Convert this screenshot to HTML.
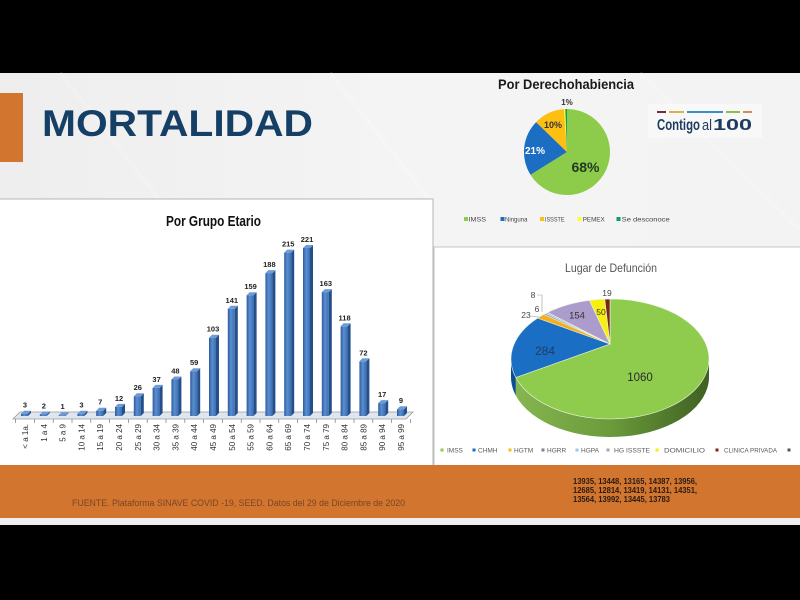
<!DOCTYPE html>
<html>
<head>
<meta charset="utf-8">
<style>
html,body{margin:0;padding:0;background:#000;}
body{width:800px;height:600px;overflow:hidden;}
svg{display:block;font-family:"Liberation Sans",sans-serif;}
</style>
</head>
<body>
<svg width="800" height="600" viewBox="0 0 800 600" xmlns="http://www.w3.org/2000/svg">
<defs>
  <linearGradient id="bg" x1="0" y1="0" x2="1" y2="0">
    <stop offset="0" stop-color="#eeeeee"/>
    <stop offset="0.5" stop-color="#f4f4f4"/>
    <stop offset="1" stop-color="#f3f3f3"/>
  </linearGradient>
  <linearGradient id="bf" x1="0" y1="0" x2="1" y2="0">
    <stop offset="0" stop-color="#2d5c9c"/>
    <stop offset="0.45" stop-color="#5a8ed0"/>
    <stop offset="1" stop-color="#3b6eb2"/>
  </linearGradient>
  <linearGradient id="side" x1="515" y1="0" x2="709" y2="0" gradientUnits="userSpaceOnUse">
    <stop offset="0" stop-color="#86b650"/>
    <stop offset="0.5" stop-color="#6a9a3a"/>
    <stop offset="1" stop-color="#3f6022"/>
  </linearGradient>
</defs>

<!-- black bars -->
<rect x="0" y="0" width="800" height="73" fill="#000"/>
<rect x="0" y="525" width="800" height="75" fill="#000"/>
<!-- background -->
<rect x="0" y="73" width="800" height="452" fill="url(#bg)"/>
<g stroke="#ffffff" stroke-width="4" opacity="0.18">
  <line x1="60" y1="73" x2="160" y2="200"/>
  <line x1="330" y1="73" x2="430" y2="200"/>
  <line x1="640" y1="73" x2="800" y2="230"/>
</g>

<!-- header -->
<rect x="0" y="93" width="23" height="69" fill="#d2752f"/>
<text x="42" y="136" font-size="37" font-weight="bold" fill="#163f66" textLength="271" lengthAdjust="spacingAndGlyphs">MORTALIDAD</text>

<!-- logo -->
<rect x="648" y="104" width="114" height="34" fill="#ffffff" opacity="0.4"/>
<rect x="657" y="111" width="9" height="2" fill="#7a2a3a"/>
<rect x="669" y="111" width="15" height="2" fill="#d9b24a"/>
<rect x="687" y="111" width="36" height="2" fill="#3a8fc8"/>
<rect x="726" y="111" width="14" height="2" fill="#8cbf4a"/>
<rect x="743" y="111" width="9" height="2" fill="#d98a50"/>
<text x="657" y="130" font-size="16" font-weight="bold" fill="#1d3a5f" textLength="43" lengthAdjust="spacingAndGlyphs">Contigo</text>
<text x="702" y="130" font-size="15" fill="#1d3a5f" textLength="10" lengthAdjust="spacingAndGlyphs">al</text>
<text x="713" y="130" font-size="16" font-weight="bold" fill="#1d3a5f" textLength="39" lengthAdjust="spacingAndGlyphs">100</text>

<!-- Por Derechohabiencia pie -->
<text x="498" y="89" font-size="14" font-weight="bold" fill="#1a1a1a" textLength="136" lengthAdjust="spacingAndGlyphs">Por Derechohabiencia</text>
<path d="M567,152 L567,109 A43,43 0 1 1 530.5,174.8 Z" fill="#8dcb4b"/>
<path d="M567,152 L530.5,174.8 A43,43 0 0 1 536.1,122.1 Z" fill="#1b6ec2"/>
<path d="M567,152 L536.1,122.1 A43,43 0 0 1 564,109.1 Z" fill="#fcbf12"/>
<path d="M567,152 L564,109.1 A43,43 0 0 1 565.3,109 Z" fill="#ffff30"/>
<path d="M567,152 L565.3,109 A43,43 0 0 1 567,109 Z" fill="#0aa060"/>
<text x="567" y="105" font-size="8" font-weight="bold" fill="#333" text-anchor="middle">1%</text>
<text x="553" y="128" font-size="9" font-weight="bold" fill="#333" text-anchor="middle">10%</text>
<text x="535" y="154" font-size="10" font-weight="bold" fill="#ffffff" text-anchor="middle">21%</text>
<text x="585.5" y="172" font-size="14" font-weight="bold" fill="#233a23" text-anchor="middle">68%</text>
<g font-size="6.5" fill="#444">
  <rect x="464" y="217" width="4" height="4" fill="#8dcb4b"/><text x="468.5" y="221.5" textLength="17.5" lengthAdjust="spacingAndGlyphs">IMSS</text>
  <rect x="500.5" y="217" width="4" height="4" fill="#1b6ec2"/><text x="505" y="221.5" textLength="22.5" lengthAdjust="spacingAndGlyphs">Ninguna</text>
  <rect x="540" y="217" width="4" height="4" fill="#fcbf12"/><text x="545" y="221.5" textLength="19.5" lengthAdjust="spacingAndGlyphs">ISSSTE</text>
  <rect x="577.5" y="217" width="4" height="4" fill="#ffff30"/><text x="582.7" y="221.5" textLength="22" lengthAdjust="spacingAndGlyphs">PEMEX</text>
  <rect x="616.5" y="217" width="4" height="4" fill="#0aa060"/><text x="621.7" y="221.5" textLength="48" lengthAdjust="spacingAndGlyphs">Se desconoce</text>
</g>

<!-- Bar chart box -->
<rect x="-1" y="199" width="434" height="267" fill="#ffffff" stroke="#b4b4b4" stroke-width="1"/>
<text x="166" y="226" font-size="15" font-weight="bold" fill="#111" textLength="95" lengthAdjust="spacingAndGlyphs">Por Grupo Etario</text>

<!-- floor -->
<polygon points="13,419 406,419 413,412 20,412" fill="#dfe6ef" stroke="#9a9a9a" stroke-width="0.8"/>
<g stroke="#888" stroke-width="0.8">
  <line x1="15.6" y1="419" x2="15.6" y2="423"/><line x1="34.4" y1="419" x2="34.4" y2="423"/><line x1="53.2" y1="419" x2="53.2" y2="423"/><line x1="72" y1="419" x2="72" y2="423"/><line x1="90.8" y1="419" x2="90.8" y2="423"/><line x1="109.6" y1="419" x2="109.6" y2="423"/><line x1="128.4" y1="419" x2="128.4" y2="423"/><line x1="147.2" y1="419" x2="147.2" y2="423"/><line x1="166" y1="419" x2="166" y2="423"/><line x1="184.8" y1="419" x2="184.8" y2="423"/><line x1="203.6" y1="419" x2="203.6" y2="423"/><line x1="222.4" y1="419" x2="222.4" y2="423"/><line x1="241.2" y1="419" x2="241.2" y2="423"/><line x1="260" y1="419" x2="260" y2="423"/><line x1="278.8" y1="419" x2="278.8" y2="423"/><line x1="297.6" y1="419" x2="297.6" y2="423"/><line x1="316.4" y1="419" x2="316.4" y2="423"/><line x1="335.2" y1="419" x2="335.2" y2="423"/><line x1="354" y1="419" x2="354" y2="423"/><line x1="372.8" y1="419" x2="372.8" y2="423"/><line x1="391.6" y1="419" x2="391.6" y2="423"/><line x1="410.4" y1="419" x2="410.4" y2="423"/>
</g>

<!-- bars -->
<g>
<g transform="translate(25,0)"><rect x="-4" y="413.7" width="7" height="2.3" fill="url(#bf)"/><path d="M3 413.7 l3 -3 V413 l-3 3z" fill="#24508a"/><path d="M-4 413.7 l3 -3 h7 l-3 3z" fill="#6e9bd8"/></g>
<g transform="translate(43.8,0)"><rect x="-4" y="414.5" width="7" height="1.5" fill="url(#bf)"/><path d="M3 414.5 l3 -3 V413 l-3 3z" fill="#24508a"/><path d="M-4 414.5 l3 -3 h7 l-3 3z" fill="#6e9bd8"/></g>
<g transform="translate(62.6,0)"><rect x="-4" y="415.2" width="7" height="0.8" fill="url(#bf)"/><path d="M3 415.2 l3 -3 V413 l-3 3z" fill="#24508a"/><path d="M-4 415.2 l3 -3 h7 l-3 3z" fill="#6e9bd8"/></g>
<g transform="translate(81.4,0)"><rect x="-4" y="413.7" width="7" height="2.3" fill="url(#bf)"/><path d="M3 413.7 l3 -3 V413 l-3 3z" fill="#24508a"/><path d="M-4 413.7 l3 -3 h7 l-3 3z" fill="#6e9bd8"/></g>
<g transform="translate(100.2,0)"><rect x="-4" y="410.7" width="7" height="5.3" fill="url(#bf)"/><path d="M3 410.7 l3 -3 V413 l-3 3z" fill="#24508a"/><path d="M-4 410.7 l3 -3 h7 l-3 3z" fill="#6e9bd8"/></g>
<g transform="translate(119,0)"><rect x="-4" y="406.9" width="7" height="9.1" fill="url(#bf)"/><path d="M3 406.9 l3 -3 V413 l-3 3z" fill="#24508a"/><path d="M-4 406.9 l3 -3 h7 l-3 3z" fill="#6e9bd8"/></g>
<g transform="translate(137.8,0)"><rect x="-4" y="396.2" width="7" height="19.8" fill="url(#bf)"/><path d="M3 396.2 l3 -3 V413 l-3 3z" fill="#24508a"/><path d="M-4 396.2 l3 -3 h7 l-3 3z" fill="#6e9bd8"/></g>
<g transform="translate(156.6,0)"><rect x="-4" y="387.9" width="7" height="28.1" fill="url(#bf)"/><path d="M3 387.9 l3 -3 V413 l-3 3z" fill="#24508a"/><path d="M-4 387.9 l3 -3 h7 l-3 3z" fill="#6e9bd8"/></g>
<g transform="translate(175.4,0)"><rect x="-4" y="379.5" width="7" height="36.5" fill="url(#bf)"/><path d="M3 379.5 l3 -3 V413 l-3 3z" fill="#24508a"/><path d="M-4 379.5 l3 -3 h7 l-3 3z" fill="#6e9bd8"/></g>
<g transform="translate(194.2,0)"><rect x="-4" y="371.2" width="7" height="44.8" fill="url(#bf)"/><path d="M3 371.2 l3 -3 V413 l-3 3z" fill="#24508a"/><path d="M-4 371.2 l3 -3 h7 l-3 3z" fill="#6e9bd8"/></g>
<g transform="translate(213,0)"><rect x="-4" y="337.7" width="7" height="78.3" fill="url(#bf)"/><path d="M3 337.7 l3 -3 V413 l-3 3z" fill="#24508a"/><path d="M-4 337.7 l3 -3 h7 l-3 3z" fill="#6e9bd8"/></g>
<g transform="translate(231.8,0)"><rect x="-4" y="308.8" width="7" height="107.2" fill="url(#bf)"/><path d="M3 308.8 l3 -3 V413 l-3 3z" fill="#24508a"/><path d="M-4 308.8 l3 -3 h7 l-3 3z" fill="#6e9bd8"/></g>
<g transform="translate(250.6,0)"><rect x="-4" y="295.2" width="7" height="120.8" fill="url(#bf)"/><path d="M3 295.2 l3 -3 V413 l-3 3z" fill="#24508a"/><path d="M-4 295.2 l3 -3 h7 l-3 3z" fill="#6e9bd8"/></g>
<g transform="translate(269.4,0)"><rect x="-4" y="273.1" width="7" height="142.9" fill="url(#bf)"/><path d="M3 273.1 l3 -3 V413 l-3 3z" fill="#24508a"/><path d="M-4 273.1 l3 -3 h7 l-3 3z" fill="#6e9bd8"/></g>
<g transform="translate(288.2,0)"><rect x="-4" y="252.6" width="7" height="163.4" fill="url(#bf)"/><path d="M3 252.6 l3 -3 V413 l-3 3z" fill="#24508a"/><path d="M-4 252.6 l3 -3 h7 l-3 3z" fill="#6e9bd8"/></g>
<g transform="translate(307,0)"><rect x="-4" y="248" width="7" height="168" fill="url(#bf)"/><path d="M3 248 l3 -3 V413 l-3 3z" fill="#24508a"/><path d="M-4 248 l3 -3 h7 l-3 3z" fill="#6e9bd8"/></g>
<g transform="translate(325.8,0)"><rect x="-4" y="292.1" width="7" height="123.9" fill="url(#bf)"/><path d="M3 292.1 l3 -3 V413 l-3 3z" fill="#24508a"/><path d="M-4 292.1 l3 -3 h7 l-3 3z" fill="#6e9bd8"/></g>
<g transform="translate(344.6,0)"><rect x="-4" y="326.3" width="7" height="89.7" fill="url(#bf)"/><path d="M3 326.3 l3 -3 V413 l-3 3z" fill="#24508a"/><path d="M-4 326.3 l3 -3 h7 l-3 3z" fill="#6e9bd8"/></g>
<g transform="translate(363.4,0)"><rect x="-4" y="361.3" width="7" height="54.7" fill="url(#bf)"/><path d="M3 361.3 l3 -3 V413 l-3 3z" fill="#24508a"/><path d="M-4 361.3 l3 -3 h7 l-3 3z" fill="#6e9bd8"/></g>
<g transform="translate(382.2,0)"><rect x="-4" y="403.1" width="7" height="12.9" fill="url(#bf)"/><path d="M3 403.1 l3 -3 V413 l-3 3z" fill="#24508a"/><path d="M-4 403.1 l3 -3 h7 l-3 3z" fill="#6e9bd8"/></g>
<g transform="translate(401,0)"><rect x="-4" y="409.2" width="7" height="6.8" fill="url(#bf)"/><path d="M3 409.2 l3 -3 V413 l-3 3z" fill="#24508a"/><path d="M-4 409.2 l3 -3 h7 l-3 3z" fill="#6e9bd8"/></g>
</g>

<!-- value labels -->
<g font-size="7.5" font-weight="bold" fill="#222" text-anchor="middle">
<text x="25" y="407.7">3</text><text x="43.8" y="408.5">2</text><text x="62.6" y="409.2">1</text><text x="81.4" y="407.7">3</text><text x="100.2" y="404.7">7</text><text x="119" y="400.9">12</text><text x="137.8" y="390.2">26</text><text x="156.6" y="381.9">37</text><text x="175.4" y="373.5">48</text><text x="194.2" y="365.2">59</text><text x="213" y="331.7">103</text><text x="231.8" y="302.8">141</text><text x="250.6" y="289.2">159</text><text x="269.4" y="267.1">188</text><text x="288.2" y="246.6">215</text><text x="307" y="242">221</text><text x="325.8" y="286.1">163</text><text x="344.6" y="320.3">118</text><text x="363.4" y="355.3">72</text><text x="382.2" y="397.1">17</text><text x="401" y="403.2">9</text>
</g>

<!-- x labels -->
<g font-size="8" fill="#333" text-anchor="end">
<text transform="translate(28,424) rotate(-90)">&lt; a 1a.</text>
<text transform="translate(46.8,424) rotate(-90)">1 a 4</text>
<text transform="translate(65.6,424) rotate(-90)">5 a 9</text>
<text transform="translate(84.4,424) rotate(-90)">10 a 14</text>
<text transform="translate(103.2,424) rotate(-90)">15 a 19</text>
<text transform="translate(122,424) rotate(-90)">20 a 24</text>
<text transform="translate(140.8,424) rotate(-90)">25 a 29</text>
<text transform="translate(159.6,424) rotate(-90)">30 a 34</text>
<text transform="translate(178.4,424) rotate(-90)">35 a 39</text>
<text transform="translate(197.2,424) rotate(-90)">40 a 44</text>
<text transform="translate(216,424) rotate(-90)">45 a 49</text>
<text transform="translate(234.8,424) rotate(-90)">50 a 54</text>
<text transform="translate(253.6,424) rotate(-90)">55 a 59</text>
<text transform="translate(272.4,424) rotate(-90)">60 a 64</text>
<text transform="translate(291.2,424) rotate(-90)">65 a 69</text>
<text transform="translate(310,424) rotate(-90)">70 a 74</text>
<text transform="translate(328.8,424) rotate(-90)">75 a 79</text>
<text transform="translate(347.6,424) rotate(-90)">80 a 84</text>
<text transform="translate(366.4,424) rotate(-90)">85 a 89</text>
<text transform="translate(385.2,424) rotate(-90)">90 a 94</text>
<text transform="translate(404,424) rotate(-90)">95 a 99</text>
</g>

<!-- Lugar de Defuncion box -->
<rect x="434" y="247" width="367" height="219" fill="#ffffff" stroke="#c4c4c4" stroke-width="1"/>
<text x="565" y="272" font-size="12" fill="#555" textLength="92" lengthAdjust="spacingAndGlyphs">Lugar de Defunción</text>

<!-- 3D pie sides -->
<path d="M709,359 A99,60 0 0 1 515.8,377.5 L515.8,395.5 A99,60 0 0 0 709,377 Z" fill="url(#side)"/>
<path d="M515.8,377.5 A99,60 0 0 1 511,359 L511,377 A99,60 0 0 0 515.8,395.5 Z" fill="#0d4f8e"/>
<!-- 3D pie top -->
<g stroke="#eef4e6" stroke-width="0.6">
<path d="M610,344 L610,299 A99,60 0 1 1 515.8,377.5 Z" fill="#8fcc4e"/>
<path d="M610,344 L515.8,377.5 A99,60 0 0 1 537.6,318.1 Z" fill="#1a6ec3"/>
<path d="M610,344 L537.6,318.1 A99,60 0 0 1 543.8,314.4 Z" fill="#f2b01e"/>
<path d="M610,344 L543.8,314.4 A99,60 0 0 1 545.7,313.4 Z" fill="#9a95b0"/>
<path d="M610,344 L545.7,313.4 A99,60 0 0 1 547.7,312.4 Z" fill="#9fc5e8"/>
<path d="M610,344 L547.7,312.4 A99,60 0 0 1 589.4,300.3 Z" fill="#ab9ccb"/>
<path d="M610,344 L589.4,300.3 A99,60 0 0 1 604.8,299.1 Z" fill="#f6f010"/>
<path d="M610,344 L604.8,299.1 A99,60 0 0 1 610,299 Z" fill="#7b2418"/>
</g>
<!-- pie labels -->
<text x="640" y="381" font-size="11.5" fill="#2a2a2a" text-anchor="middle">1060</text>
<text x="545" y="355" font-size="12" fill="#1e3f66" text-anchor="middle">284</text>
<text x="577" y="318.5" font-size="9.5" fill="#333" text-anchor="middle">154</text>
<text x="601" y="315" font-size="8.5" fill="#333" text-anchor="middle">50</text>
<text x="607" y="296" font-size="8.5" fill="#444" text-anchor="middle">19</text>
<text x="526" y="318" font-size="8.5" fill="#444" text-anchor="middle">23</text>
<text x="537" y="312" font-size="8.5" fill="#444" text-anchor="middle">6</text>
<text x="533" y="298" font-size="8.5" fill="#444" text-anchor="middle">8</text>
<polyline points="537,295 542,295 542,312" fill="none" stroke="#999" stroke-width="0.6"/>
<line x1="531" y1="316" x2="539" y2="317" stroke="#999" stroke-width="0.6"/>

<!-- legend 2 -->
<g font-size="6.5" fill="#595959">
  <rect x="440.5" y="448.5" width="3" height="3" fill="#8fcc4e"/><text x="447" y="452.5">IMSS</text>
  <rect x="472.5" y="448.5" width="3" height="3" fill="#1a6ec3"/><text x="478" y="452.5">CHMH</text>
  <rect x="508.5" y="448.5" width="3" height="3" fill="#f2c010"/><text x="514" y="452.5">HGTM</text>
  <rect x="541.5" y="448.5" width="3" height="3" fill="#7f7f99"/><text x="547" y="452.5">HGRR</text>
  <rect x="575.5" y="448.5" width="3" height="3" fill="#9fc5e8"/><text x="581" y="452.5">HGPA</text>
  <rect x="606.5" y="448.5" width="3" height="3" fill="#ab9ccb"/><text x="614" y="452.5" textLength="36" lengthAdjust="spacingAndGlyphs">HG ISSSTE</text>
  <rect x="655.5" y="448.5" width="3" height="3" fill="#f6f010"/><text x="664" y="452.5" textLength="41" lengthAdjust="spacingAndGlyphs">DOMICILIO</text>
  <rect x="715.5" y="448.5" width="3" height="3" fill="#7b2418"/><text x="724" y="452.5" textLength="53" lengthAdjust="spacingAndGlyphs">CLINICA PRIVADA</text>
  <rect x="787.5" y="448.5" width="3" height="3" fill="#555"/>
</g>

<!-- bottom orange band -->
<rect x="0" y="465" width="800" height="53" fill="#d2752f"/>
<rect x="0" y="518" width="800" height="7" fill="#eeeeee"/>
<text x="72" y="506" font-size="9.5" fill="#7a4526" textLength="333" lengthAdjust="spacingAndGlyphs">FUENTE. Plataforma SINAVE COVID -19, SEED. Datos del 29 de Diciembre de 2020</text>
<g font-size="8" font-weight="bold" fill="#2b1a10">
  <text x="573" y="484" textLength="124" lengthAdjust="spacingAndGlyphs">13935, 13448, 13165, 14387, 13956,</text>
  <text x="573" y="493" textLength="124" lengthAdjust="spacingAndGlyphs">12685, 12814, 13419, 14131, 14351,</text>
  <text x="573" y="502" textLength="97" lengthAdjust="spacingAndGlyphs">13564, 13992, 13445, 13783</text>
</g>
</svg>
</body>
</html>
